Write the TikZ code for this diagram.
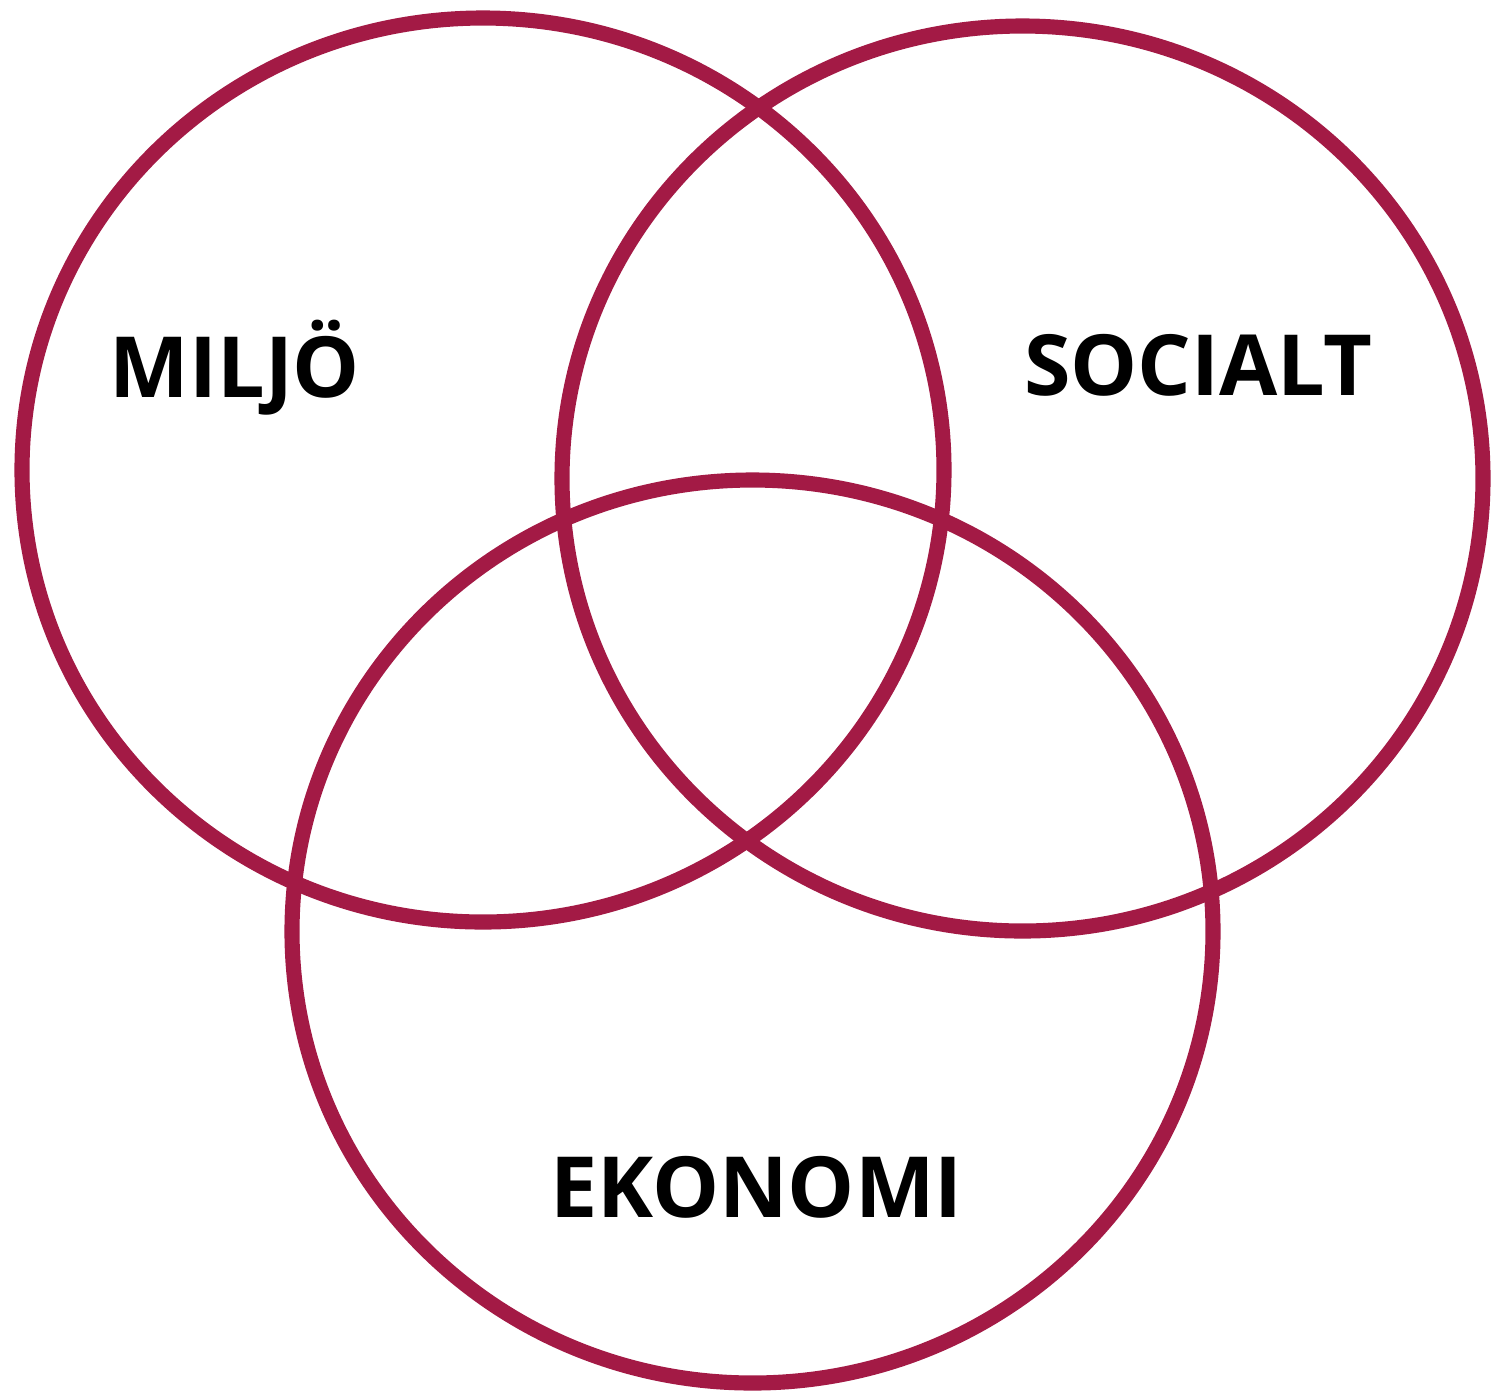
\documentclass[tikz,border=0pt]{standalone}
\usepackage{fontspec}
\setmainfont{Open Sans}
\definecolor{vennred}{RGB}{163,26,69}
\tikzset{
  ring/.style={draw=vennred, line width=4.3pt},
  setlabel/.style={font=\fontsize{24}{28}\selectfont\bfseries, inner sep=0pt, anchor=base},
}

\begin{document}
\begin{tikzpicture}[x=0.01cm, y=-0.01cm]
  \useasboundingbox (0,0) rectangle (1491,1390);

  % --- the three sets ---
  \draw[ring] (483,470) ellipse [x radius=461, y radius=452];
  \draw[ring] (1022.5,478.5) ellipse [x radius=460.5, y radius=452.5];
  \draw[ring] (752.5,931.5) ellipse [x radius=460.5, y radius=451.5];

  % --- labels ---
  \node[setlabel] (miljo) at (235,397) {MILJÖ};
  \node[setlabel] (socialt) at (1198.5,395) {SOCIALT};
  \node[setlabel] (ekonomi) at (756.5,1217) {EKONOMI};
\end{tikzpicture}
\end{document}
